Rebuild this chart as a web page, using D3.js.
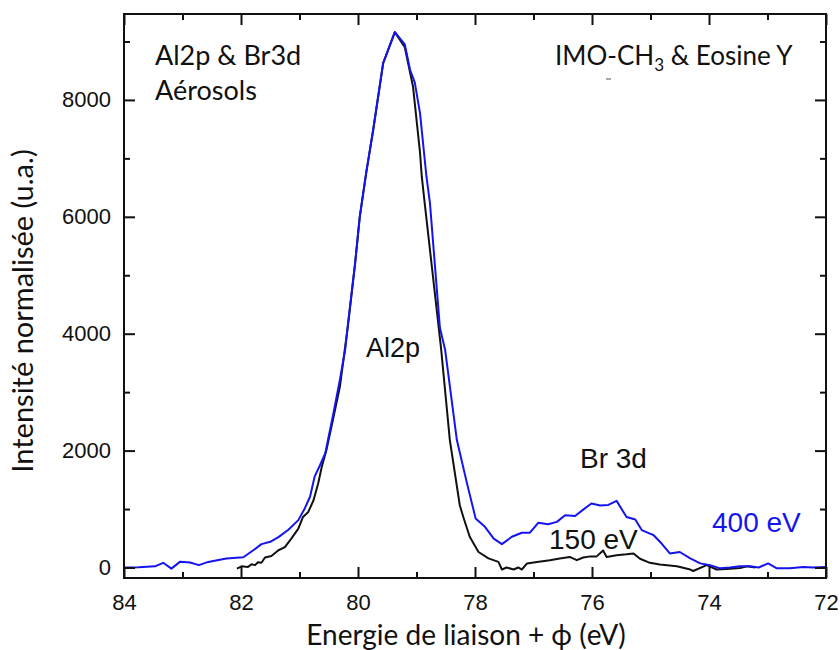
<!doctype html>
<title>Al2p & Br3d</title>
<script src="https://cdn.jsdelivr.net/npm/d3@7"></script>
<style>
body, html {
  margin: 0;
  background: #fff;
}
.tick text {
  font-family: "Liberation Sans", Arial, sans-serif;
  font-size: 22px;
  fill: #111;
}
.tick line {
  stroke: #111;
  stroke-width: 2px;
}
.cal {
  font-family: Lato, "Open Sans", sans-serif;
  fill: #111;
}
.ari {
  font-family: "Liberation Sans", Arial, sans-serif;
  fill: #111;
}
</style>
<div id="chart"></div>
<script>
// energies (eV) and normalised intensities
var e400 = [84.00, 83.75, 83.47, 83.33, 83.19, 83.04, 82.87, 82.72, 82.56, 82.25,
  81.96, 81.79, 81.65, 81.50, 81.36, 81.19, 81.02, 80.91, 80.82, 80.74,
  80.65, 80.56, 80.42, 80.31, 80.22, 80.17, 80.05, 79.97, 79.86, 79.74,
  79.57, 79.37, 79.20, 79.11, 79.03, 78.94, 78.83, 78.77, 78.60, 78.51,
  78.31, 78.15, 77.99, 77.83, 77.68, 77.54, 77.37, 77.20, 77.06, 76.92,
  76.75, 76.60, 76.46, 76.29, 76.15, 76.01, 75.86, 75.72, 75.58, 75.41,
  75.26, 75.15, 75.01, 74.95, 74.81, 74.67, 74.50, 74.32, 74.15, 73.98,
  73.81, 73.64, 73.47, 73.30, 73.15, 72.99, 72.84, 72.62, 72.39, 72.22, 72.00];
var i400 = [0, 5, 20, 80, -20, 100, 85, 40, 95, 155,
  175, 295, 400, 440, 520, 645, 810, 1010, 1210, 1560,
  1750, 1950, 2640, 3210, 3720, 4180, 5200, 6000, 6750, 7490,
  8630, 9160, 8950, 8515, 8300, 7775, 6690, 6235, 4100, 3720,
  2180, 1495, 840, 695, 495, 400, 525, 595, 595, 765,
  740, 780, 895, 880, 990, 1095, 1060, 1070, 1140, 865,
  820, 640, 580, 555, 410, 240, 265, 155, 70, 40,
  -15, 0, 20, 20, 0, 70, -15, -15, 10, 0, 10];

var e150 = [82.07, 81.99, 81.88, 81.82, 81.76, 81.71, 81.65, 81.59, 81.48, 81.36,
  81.25, 81.14, 81.02, 80.94, 80.85, 80.76, 80.68, 80.62, 80.54, 80.43,
  80.31, 80.17, 80.05, 79.97, 79.86, 79.74, 79.57, 79.37, 79.20, 79.06,
  78.94, 78.91, 78.86, 78.58, 78.43, 78.26, 78.20, 78.09, 77.94, 77.77,
  77.60, 77.54, 77.46, 77.34, 77.26, 77.20, 77.11, 76.94, 76.72, 76.55,
  76.38, 76.26, 76.15, 76.03, 75.92, 75.81, 75.75, 75.58, 75.41, 75.29,
  75.18, 75.01, 74.84, 74.55, 74.32, 74.27, 74.04, 73.87, 73.70, 73.47,
  73.35, 73.21];
var i150 = [-20, 20, 10, 55, 40, 90, 80, 170, 195, 295,
  350, 495, 665, 865, 950, 1150, 1440, 1720, 2010, 2520,
  3090, 4150, 5200, 6000, 6750, 7490, 8630, 9160, 8900, 8230,
  7100, 6690, 6235, 3750, 2180, 1065, 865, 525, 265, 155,
  95, -35, 0, -35, 0, -35, 70, 95, 125, 155,
  180, 125, 170, 190, 190, 290, 180, 210, 225, 240,
  150, 80, 50, 20, -35, -60, 40, -35, -25, -10,
  20, 0];

var xMajor = [84, 82, 80, 78, 76, 74, 72];
var xMinor = [83, 81, 79, 77, 75, 73];
var yMajor = [0, 2000, 4000, 6000, 8000];
var yMinor = [1000, 3000, 5000, 7000, 9000];

var W = 840, H = 650;
var plotL = 124, plotR = 826, plotT = 14, plotB = 578;
var blue = "#1414f0";

var svg = d3.select("#chart").append("svg")
  .attr("width", W)
  .attr("height", H);

var x = d3.scaleLinear().domain([84, 72]).range([plotL, plotR]);
var y = d3.scaleLinear().domain([-180, 9470]).range([plotB, plotT]);

var line = d3.line()
  .x(function(d) { return x(d[0]); })
  .y(function(d) { return y(d[1]); });

// 150 eV first, 400 eV drawn over it
svg.append("path")
  .datum(d3.zip(e150, i150))
  .attr("d", line)
  .attr("fill", "none")
  .attr("stroke", "#111")
  .attr("stroke-width", 2)
  .attr("stroke-linejoin", "round");

svg.append("path")
  .datum(d3.zip(e400, i400))
  .attr("d", line)
  .attr("fill", "none")
  .attr("stroke", blue)
  .attr("stroke-width", 2)
  .attr("stroke-linejoin", "round");

// axes, ticks pointing inward on all four sides
function axisG(axis, tx, ty) {
  var g = svg.append("g").attr("transform", "translate(" + tx + "," + ty + ")").call(axis);
  g.select(".domain").remove();
  return g;
}

axisG(d3.axisBottom(x).tickValues(xMajor).tickSize(-11).tickSizeOuter(0).tickPadding(16).tickFormat(d3.format("d")), 0, plotB);
axisG(d3.axisBottom(x).tickValues(xMinor).tickSize(-6).tickSizeOuter(0).tickFormat(""), 0, plotB);
axisG(d3.axisTop(x).tickValues(xMajor).tickSize(-11).tickSizeOuter(0).tickFormat(""), 0, plotT);
axisG(d3.axisTop(x).tickValues(xMinor).tickSize(-6).tickSizeOuter(0).tickFormat(""), 0, plotT);

axisG(d3.axisLeft(y).tickValues(yMajor).tickSize(-11).tickSizeOuter(0).tickPadding(13).tickFormat(d3.format("d")), plotL, 0);
axisG(d3.axisLeft(y).tickValues(yMinor).tickSize(-6).tickSizeOuter(0).tickFormat(""), plotL, 0);
axisG(d3.axisRight(y).tickValues(yMajor).tickSize(-11).tickSizeOuter(0).tickFormat(""), plotR, 0);
axisG(d3.axisRight(y).tickValues(yMinor).tickSize(-6).tickSizeOuter(0).tickFormat(""), plotR, 0);

svg.append("rect")
  .attr("x", plotL).attr("y", plotT)
  .attr("width", plotR - plotL).attr("height", plotB - plotT)
  .attr("fill", "none")
  .attr("stroke", "#111")
  .attr("stroke-width", 2);

// axis titles
svg.append("text")
  .attr("class", "cal")
  .attr("x", 466)
  .attr("y", 645)
  .attr("text-anchor", "middle")
  .style("font-size", "28px")
  .text("Energie de liaison + ϕ (eV)");

svg.append("text")
  .attr("class", "cal")
  .attr("transform", "translate(33,311) rotate(-90)")
  .attr("text-anchor", "middle")
  .style("font-size", "29px")
  .text("Intensité normalisée (u.a.)");

// annotations
svg.append("text").attr("class", "cal").attr("x", 155).attr("y", 65)
  .style("font-size", "27px").text("Al2p & Br3d");
svg.append("text").attr("class", "cal").attr("x", 155).attr("y", 100)
  .style("font-size", "27px").text("Aérosols");

var imo = svg.append("text").attr("class", "cal").attr("x", 555).attr("y", 65)
  .style("font-size", "26px");
imo.append("tspan").text("IMO-CH");
imo.append("tspan").attr("dy", 6).style("font-size", "17px").text("3");
imo.append("tspan").attr("dy", -6).text(" & Eosine Y");

svg.append("line")
  .attr("x1", 606).attr("x2", 611).attr("y1", 79).attr("y2", 79)
  .attr("stroke", "#555").attr("stroke-width", 1);

svg.append("text").attr("class", "ari").attr("x", 366).attr("y", 357)
  .style("font-size", "27px").text("Al2p");
svg.append("text").attr("class", "ari").attr("x", 580).attr("y", 468)
  .style("font-size", "28px").text("Br 3d");
svg.append("text").attr("class", "ari").attr("x", 549).attr("y", 549)
  .style("font-size", "28px").text("150 eV");
svg.append("text").attr("class", "ari").attr("x", 712).attr("y", 532)
  .style("font-size", "28px").style("fill", blue).text("400 eV");
</script>
